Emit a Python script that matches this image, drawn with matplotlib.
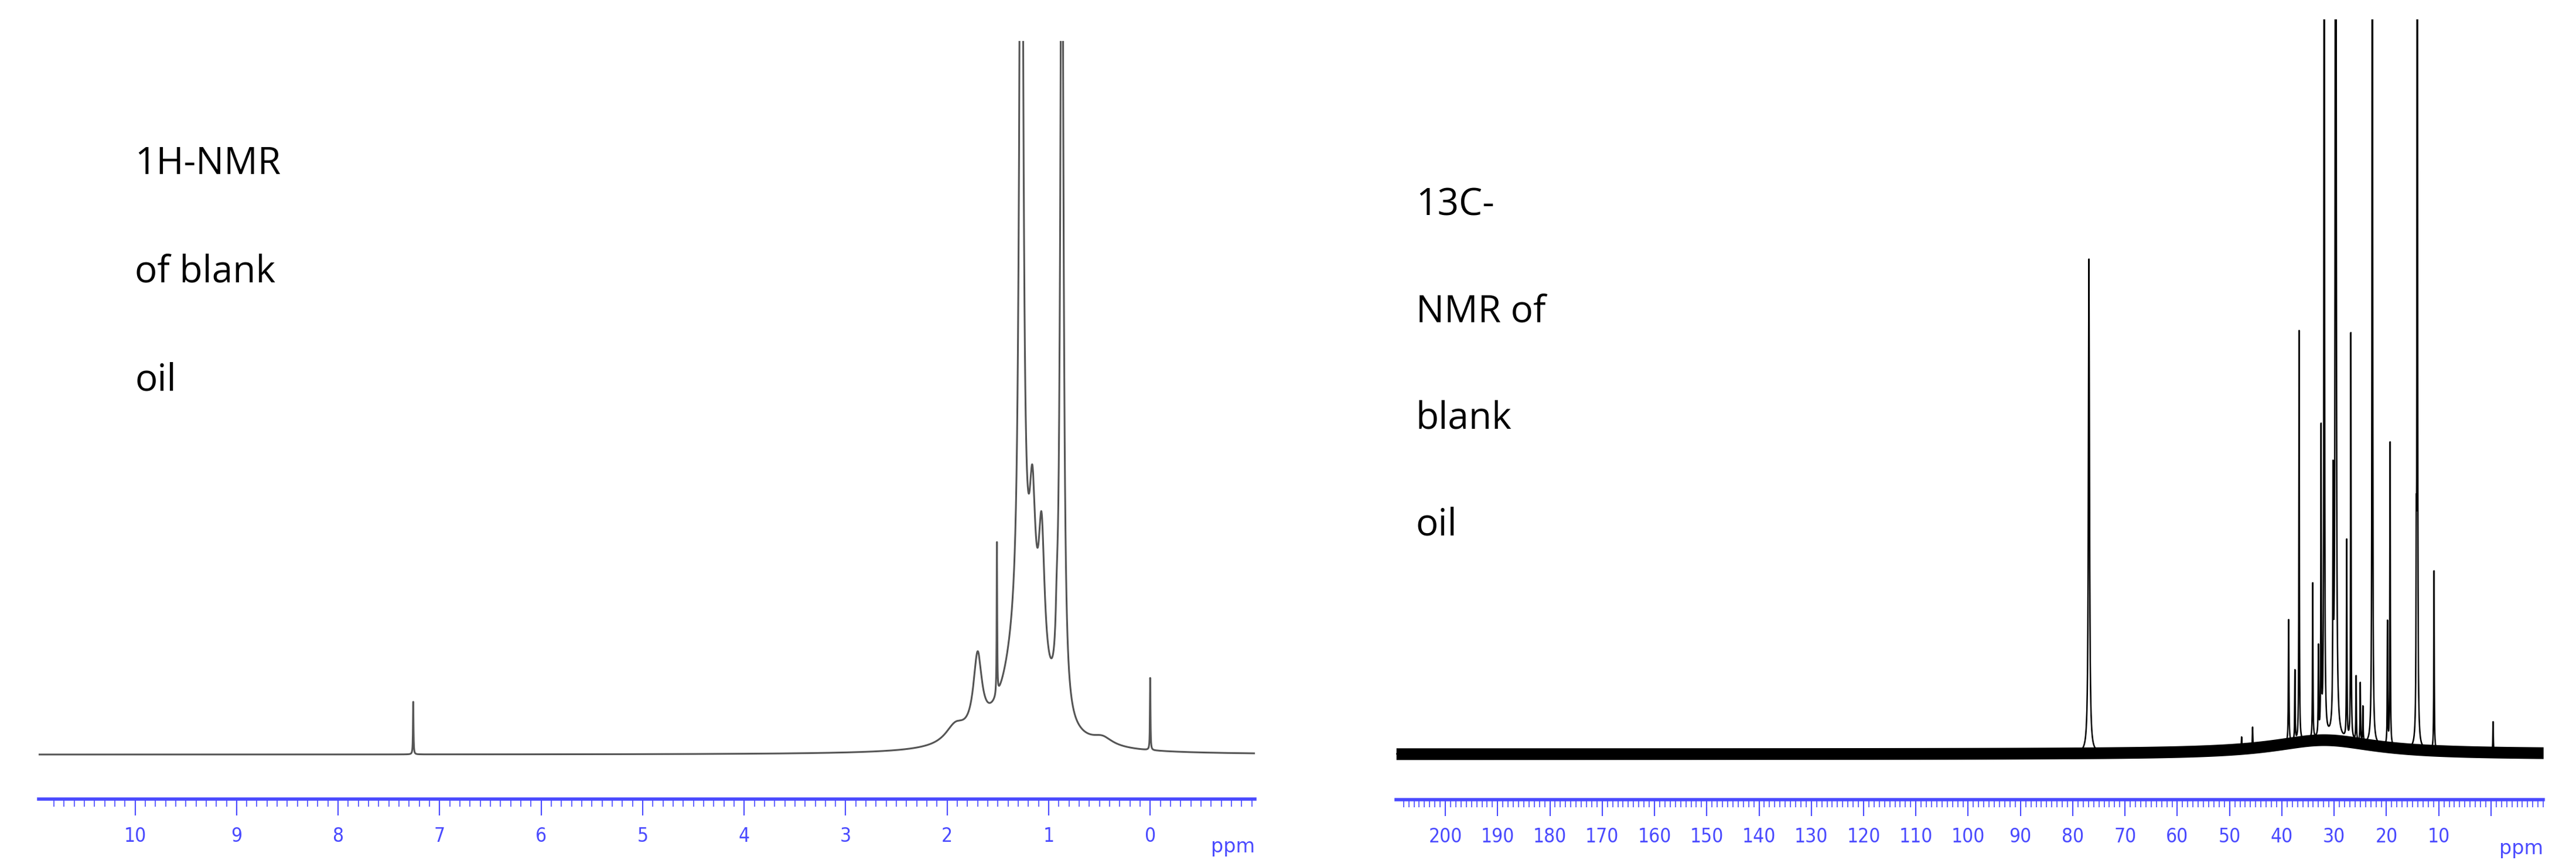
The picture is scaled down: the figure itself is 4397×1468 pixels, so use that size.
import numpy as np
import matplotlib
matplotlib.use("Agg")
import matplotlib.pyplot as plt

# ---- 1H-NMR peak list (ppm, height, half-width) ----
h_pos = [1.27, 0.87, 1.25, 1.16, 1.07, 0.92, 1.51, 1.70, 1.92, 0.47, 7.26, 0.00]
h_hgt = [1800, 1600, 200, 230, 240, 60, 260, 130, 30, 14, 90, 125]
h_wid = [0.02, 0.018, 0.2, 0.035, 0.035, 0.012, 0.003, 0.05, 0.12, 0.12, 0.003, 0.003]
h_base = 76

# ---- 13C-NMR peak list (ppm, height, half-width) ----
c_pos = [76.9, 29.7, 31.9, 22.7, 14.1, 36.7, 32.5, 26.8, 19.3, 10.9, 38.7, 34.1,
         27.6, -0.4, 45.6, 47.7, 25.0, 25.8, 19.8, 14.3, 37.5, 33.0, 30.2, 24.5]
c_hgt = [843, 3000, 2000, 2000, 2000, 701, 516, 694, 518, 306, 210, 265,
         338, 52, 35, 20, 100, 110, 210, 265, 120, 150, 400, 60]
c_wid = [0.12, 0.08, 0.06, 0.06, 0.06, 0.05, 0.05, 0.05, 0.05, 0.05, 0.06, 0.05,
         0.05, 0.05, 0.05, 0.05, 0.05, 0.05, 0.05, 0.05, 0.05, 0.05, 0.06, 0.05]
c_base = 78
c_hump_pos, c_hump_hgt, c_hump_wid = 32.0, 24, 12.0

h_ticks = list(range(0, 11))
c_ticks = list(range(10, 201, 10))

BLUE = "#4a4aff"

def lorentz(x, p, h, w):
    return h * w**2 / ((x - p)**2 + w**2)

fig = plt.figure(figsize=(43.97, 14.68), dpi=100)

# ---------- left: 1H ----------
ax1 = fig.add_axes([0.0150, 0.0708, 0.4721, 0.8815])
x1 = np.linspace(-1.03, 10.95, 12000)
y1 = np.full_like(x1, h_base, dtype=float)
for p, h, w in zip(h_pos, h_hgt, h_wid):
    y1 += lorentz(x1, p, h, w)
ax1.plot(x1, y1, color="#555555", lw=2.2)
ax1.set_xlim(10.95, -1.03)
ax1.set_ylim(0, 1294)

# ---------- right: 13C ----------
ax2 = fig.add_axes([0.5420, 0.0702, 0.4453, 0.9074])
x2 = np.linspace(-10, 209.4, 44000)
base2 = c_base + lorentz(x2, c_hump_pos, c_hump_hgt, c_hump_wid)
ax2.fill_between(x2, base2 - 10, base2 + 10, color="black", lw=0)
y2 = base2.copy()
for p, h, w in zip(c_pos, c_hgt, c_wid):
    y2 += lorentz(x2, p, h, w)
ax2.plot(x2, y2, color="black", lw=1.8)
ax2.set_xlim(209.4, -10)
ax2.set_ylim(0, 1332)

for ax, major, minor_step, lo, hi in [(ax1, h_ticks, 0.1, -1.0, 10.9),
                                       (ax2, c_ticks, 1.0, -10, 209)]:
    for s in ["top", "left", "right"]:
        ax.spines[s].set_visible(False)
    ax.spines["bottom"].set_color(BLUE)
    ax.spines["bottom"].set_linewidth(4)
    ax.set_yticks([])
    ax.set_xticks(major)
    ax.set_xticklabels([str(t) for t in major], color=BLUE, fontsize=24,
                       family="DejaVu Sans", fontstretch="condensed")
    ax.set_xticks(np.arange(np.ceil(lo / minor_step) * minor_step, hi, minor_step), minor=True)
    ax.tick_params(axis="x", which="major", length=20, width=1.5, color=BLUE, pad=14)
    ax.tick_params(axis="x", which="minor", length=9, width=1.2, color=BLUE)
    ax.text(1.0, -0.05, "ppm", transform=ax.transAxes, ha="right", va="top",
            color=BLUE, fontsize=24, family="DejaVu Sans")

ax2.set_xticks(list(ax2.get_xticks()) + [0])
ax2.set_xticklabels([str(t) for t in c_ticks] + [""], color=BLUE, fontsize=24)

# ---------- annotations ----------
fs = 46
for txt, y in [("1H-NMR", 280), ("of blank", 465), ("oil", 650)]:
    fig.text(230 / 4397, 1 - y / 1468, txt, fontsize=fs, family="Open Sans",
             va="center", ha="left")
for txt, y in [("13C-", 350), ("NMR of", 532), ("blank", 714), ("oil", 896)]:
    fig.text(2417 / 4397, 1 - y / 1468, txt, fontsize=fs, family="Open Sans",
             va="center", ha="left")

fig.savefig("out.png", dpi=100)
